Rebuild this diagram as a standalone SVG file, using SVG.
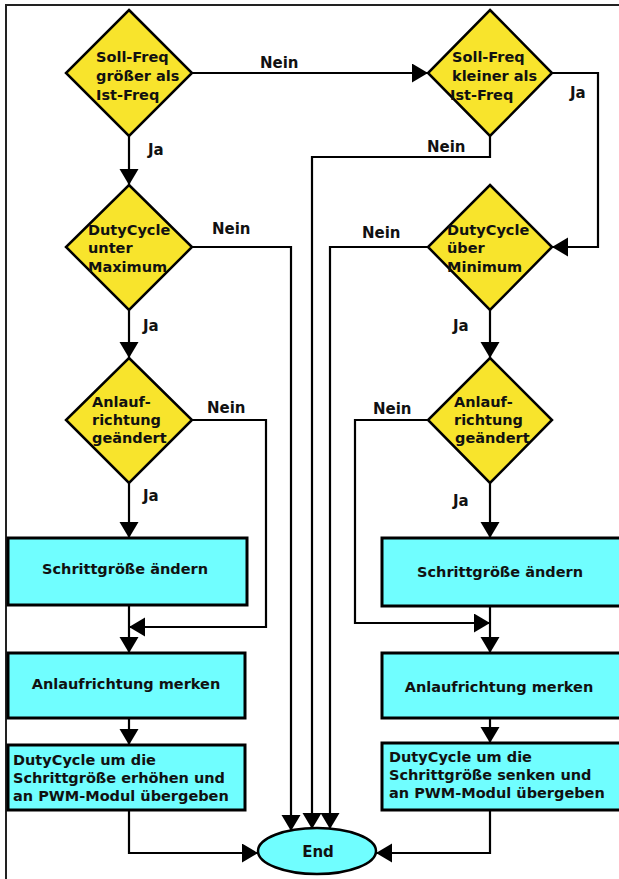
<svg xmlns="http://www.w3.org/2000/svg" width="619" height="879" viewBox="0 0 619 879">
  <style>
    .dec { fill: #f8e42c; stroke: #000; stroke-width: 2.5; stroke-linejoin: miter; }
    .box { fill: #70feff; stroke: #000; stroke-width: 3; }
    .t { font-family: "DejaVu Sans", Verdana, sans-serif; font-weight: bold; font-size: 14.5px; fill: #111; }
    .c { text-anchor: middle; }
    .lbl { font-family: "DejaVu Sans", Verdana, sans-serif; font-weight: bold; font-size: 15px; fill: #111; }
    .wire { fill: none; stroke: #000; stroke-width: 2.2; }
  </style>
  <defs>
    <marker id="ah" markerUnits="userSpaceOnUse" markerWidth="16" markerHeight="20" refX="16" refY="9.5" orient="auto">
      <path d="M0,0 L16,9.5 L0,19 z" fill="#000"/>
    </marker>
  </defs>
  <rect x="0" y="0" width="619" height="879" fill="#fff"/>
  <!-- outer frame (top and left edges) -->
  <path d="M6,879 L6,5 L619,5" fill="none" stroke="#222" stroke-width="2"/>

  <!-- left branch -->
  <g id="d1">
    <polygon class="dec" points="129,10 192,73 129,136 66,73"/>
    <text class="t" x="96" y="62">Soll-Freq</text>
    <text class="t" x="96" y="81">größer als</text>
    <text class="t" x="96" y="100">Ist-Freq</text>
  </g>
  <g id="d2">
    <polygon class="dec" points="129,185 192,247 129,310 66,247"/>
    <text class="t" x="88" y="235">DutyCycle</text>
    <text class="t" x="88" y="253">unter</text>
    <text class="t" x="88" y="272">Maximum</text>
  </g>
  <g id="d3">
    <polygon class="dec" points="129,358 192,420 129,483 66,420"/>
    <text class="t" x="92" y="407">Anlauf-</text>
    <text class="t" x="92" y="425">richtung</text>
    <text class="t" x="92" y="443">geändert</text>
  </g>
  <g id="r1">
    <rect class="box" x="8" y="538" width="239" height="67"/>
    <text class="t c" x="125" y="574">Schrittgröße ändern</text>
  </g>
  <g id="r2">
    <rect class="box" x="8" y="653" width="237" height="65"/>
    <text class="t c" x="126" y="689">Anlaufrichtung merken</text>
  </g>
  <g id="r3">
    <rect class="box" x="8" y="745" width="237" height="65"/>
    <text class="t" x="13" y="765">DutyCycle um die</text>
    <text class="t" x="13" y="783">Schrittgröße erhöhen und</text>
    <text class="t" x="13" y="801">an PWM-Modul übergeben</text>
  </g>

  <!-- right branch -->
  <g id="d4">
    <polygon class="dec" points="490,10 552,73 490,136 428,73"/>
    <text class="t" x="452" y="62">Soll-Freq</text>
    <text class="t" x="452" y="81">kleiner als</text>
    <text class="t" x="450" y="100">Ist-Freq</text>
  </g>
  <g id="d5">
    <polygon class="dec" points="490,185 552,247 490,310 428,247"/>
    <text class="t" x="447" y="235">DutyCycle</text>
    <text class="t" x="447" y="253">über</text>
    <text class="t" x="447" y="272">Minimum</text>
  </g>
  <g id="d6">
    <polygon class="dec" points="490,358 552,420 490,483 428,420"/>
    <text class="t" x="454" y="407">Anlauf-</text>
    <text class="t" x="454" y="425">richtung</text>
    <text class="t" x="455" y="443">geändert</text>
  </g>
  <g id="rr1">
    <rect class="box" x="382" y="538" width="250" height="68"/>
    <text class="t c" x="500" y="577">Schrittgröße ändern</text>
  </g>
  <g id="rr2">
    <rect class="box" x="382" y="653" width="250" height="65"/>
    <text class="t c" x="499" y="692">Anlaufrichtung merken</text>
  </g>
  <g id="rr3">
    <rect class="box" x="382" y="743" width="250" height="67"/>
    <text class="t" x="389" y="762">DutyCycle um die</text>
    <text class="t" x="389" y="780">Schrittgröße senken und</text>
    <text class="t" x="389" y="798">an PWM-Modul übergeben</text>
  </g>

  <g id="end">
    <ellipse cx="317" cy="851" rx="59" ry="23" fill="#70feff" stroke="#000" stroke-width="2.5"/>
    <text class="lbl c" x="318" y="857" font-size="16">End</text>
  </g>

  <!-- connectors -->
  <g id="connectors">
    <path class="wire" marker-end="url(#ah)" d="M129,136 L129,185"/>
    <path class="wire" marker-end="url(#ah)" d="M192,73 L428,73"/>
    <path class="wire" marker-end="url(#ah)" d="M552,73 L598,73 L598,247 L552,247"/>
    <path class="wire" marker-end="url(#ah)" d="M490,136 L490,157 L312,157 L312,829"/>
    <path class="wire" marker-end="url(#ah)" d="M192,247 L291,247 L291,831"/>
    <path class="wire" marker-end="url(#ah)" d="M428,247 L330,247 L330,829"/>
    <path class="wire" marker-end="url(#ah)" d="M129,310 L129,358"/>
    <path class="wire" marker-end="url(#ah)" d="M490,310 L490,358"/>
    <path class="wire" marker-end="url(#ah)" d="M192,420 L266,420 L266,627 L129,627"/>
    <path class="wire" marker-end="url(#ah)" d="M129,483 L129,538"/>
    <path class="wire" marker-end="url(#ah)" d="M129,605 L129,653"/>
    <path class="wire" marker-end="url(#ah)" d="M129,718 L129,745"/>
    <path class="wire" marker-end="url(#ah)" d="M129,810 L129,853 L258,853"/>
    <path class="wire" marker-end="url(#ah)" d="M428,420 L355,420 L355,623 L490,623"/>
    <path class="wire" marker-end="url(#ah)" d="M490,483 L490,538"/>
    <path class="wire" marker-end="url(#ah)" d="M490,606 L490,653"/>
    <path class="wire" marker-end="url(#ah)" d="M490,718 L490,743"/>
    <path class="wire" marker-end="url(#ah)" d="M490,810 L490,853 L376,853"/>
  </g>

  <!-- branch labels -->
  <g id="labels">
    <text class="lbl" x="260" y="68">Nein</text>
    <text class="lbl" x="148" y="155">Ja</text>
    <text class="lbl" x="212" y="234">Nein</text>
    <text class="lbl" x="143" y="331">Ja</text>
    <text class="lbl" x="207" y="413">Nein</text>
    <text class="lbl" x="143" y="501">Ja</text>
    <text class="lbl" x="570" y="98">Ja</text>
    <text class="lbl" x="427" y="152">Nein</text>
    <text class="lbl" x="362" y="238">Nein</text>
    <text class="lbl" x="453" y="331">Ja</text>
    <text class="lbl" x="373" y="414">Nein</text>
    <text class="lbl" x="453" y="506">Ja</text>
  </g>
</svg>
